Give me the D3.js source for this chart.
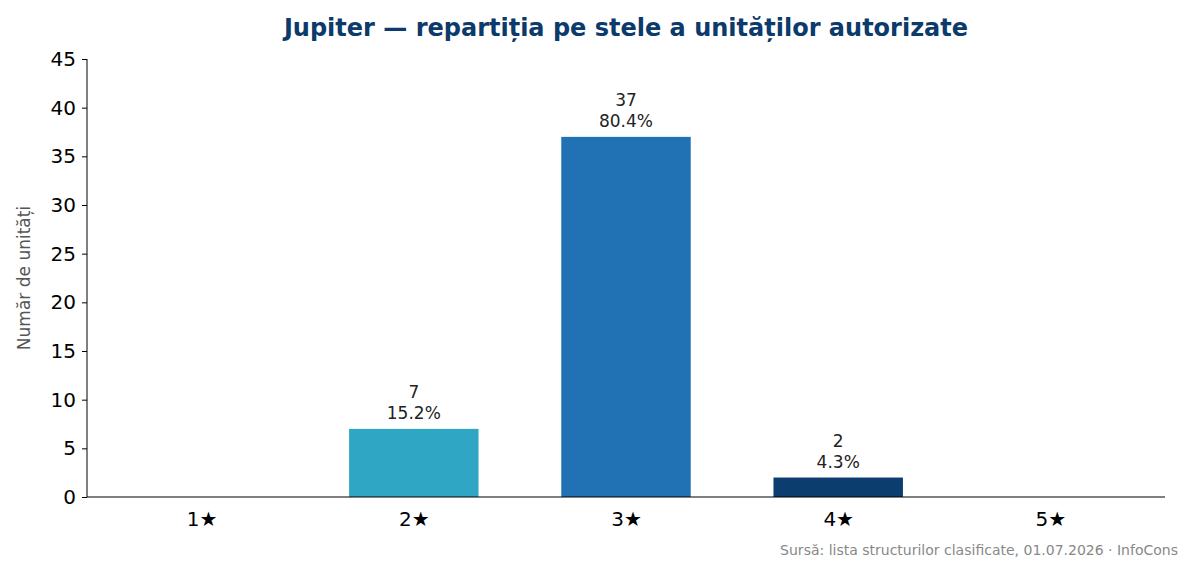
<!DOCTYPE html>
<html><head><meta charset="utf-8">
<script src="https://cdn.jsdelivr.net/npm/d3@7"></script>
<style>body{margin:0;background:#fff;font-family:"DejaVu Sans",sans-serif}</style>
</head><body><svg id="c" width="1193" height="572"></svg>
<script>
const categories = ["1★","2★","3★","4★","5★"];
const counts = [0,7,37,2,0];
const percents = ["","15.2%","80.4%","4.3%",""];
const colors = ["#2ea6c4","#2ea6c4","#2171b5","#0b3d6e","#0b3d6e"];
const yTicks = [0,5,10,15,20,25,30,35,40,45];

const svg = d3.select("#c");
const x = d3.scaleLinear().domain([-0.54,4.54]).range([87,1165]);
const y = d3.scaleLinear().domain([0,45]).range([497,59]);
const bw = x(0.61)-x(0);

svg.append("text").attr("x",626).attr("y",36).attr("text-anchor","middle")
  .attr("font-size",24).attr("font-weight","bold").attr("fill","#0b3a6b")
  .text("Jupiter — repartiția pe stele a unităților autorizate");

counts.forEach((v,i)=>{
  if(v<=0) return;
  svg.append("rect").attr("x",x(i)-bw/2).attr("y",y(v)).attr("width",bw)
    .attr("height",y(0)-y(v)).attr("fill",colors[i]);
  const t = svg.append("text").attr("text-anchor","middle").attr("font-size",17).attr("fill","#222");
  t.append("tspan").attr("x",x(i)).attr("y",y(v)-31).text(v);
  t.append("tspan").attr("x",x(i)).attr("y",y(v)-10).text(percents[i]);
});

const ya = svg.append("g").attr("transform","translate(87,0)")
  .call(d3.axisLeft(y).tickValues(yTicks).tickSize(5).tickPadding(6));
ya.selectAll("text").attr("font-size",20).attr("fill","#000").attr("font-family","DejaVu Sans");
ya.select(".domain").attr("d","M0,59V497");

const xa = svg.append("g").attr("transform","translate(0,497)")
  .call(d3.axisBottom(x).tickValues([0,1,2,3,4]).tickFormat(i=>categories[i]).tickSize(0).tickPadding(15));
xa.selectAll("text").attr("font-size",20).attr("fill","#000").attr("font-family","DejaVu Sans");
xa.select(".domain").attr("d","M87,0H1165");
svg.selectAll(".domain").attr("stroke","#000");

svg.append("text").attr("transform","translate(30,278) rotate(-90)").attr("text-anchor","middle")
  .attr("font-size",17).attr("fill","#555").text("Număr de unități");
svg.append("text").attr("x",1178).attr("y",555).attr("text-anchor","end")
  .attr("font-size",14).attr("fill","#888").text("Sursă: lista structurilor clasificate, 01.07.2026 · InfoCons");
</script></body></html>
